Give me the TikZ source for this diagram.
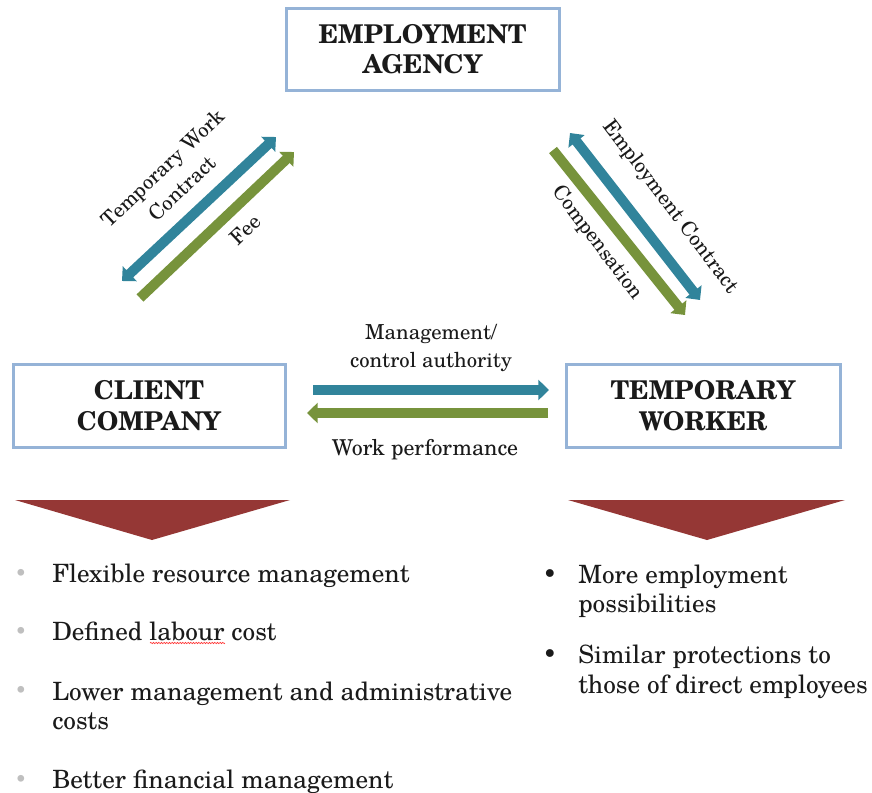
\documentclass[tikz,border=0pt]{standalone}
\usepackage{fontspec}
\setmainfont{TeX Gyre Schola}
\usetikzlibrary{arrows.meta,decorations.pathmorphing}
\definecolor{boxblue}{HTML}{95B3D7}
\definecolor{arrblue}{HTML}{31849B}
\definecolor{arrgreen}{HTML}{77933C}
\definecolor{tri}{HTML}{953735}
\definecolor{bulgray}{HTML}{BFBFBF}
\definecolor{txt}{HTML}{1A1A1A}
\begin{document}
\begin{tikzpicture}[x=0.75pt,y=-0.75pt,
  box/.style={draw=boxblue,line width=2.25pt,fill=white,align=center,
    font=\fontsize{19.4}{23}\selectfont\bfseries,text=txt,inner sep=0pt},
  fat/.style={line width=7.5pt},
  tipA/.style={-{Triangle[width=15pt,length=8pt]}},
  tipB/.style={{Triangle[width=15pt,length=8pt]}-{Triangle[width=15pt,length=8pt]}},
  lbl/.style={font=\fontsize{15.5}{21}\selectfont,text=txt,align=center,inner sep=0pt},
  btxt/.style={font=\fontsize{18.9}{21.75}\selectfont,text=txt,align=left,anchor=base west,inner sep=0pt},
  gbul/.style={font=\fontsize{15}{18}\selectfont,text=bulgray,inner sep=0pt},
  kbul/.style={font=\fontsize{17.5}{21.75}\selectfont,text=txt,inner sep=0pt}]
\useasboundingbox (0,0) rectangle (872,793);

% boxes
\node[box,minimum width=204.75pt,minimum height=61.5pt] (agency) at (422.5,49) {EMPLOYMENT\\AGENCY};
\node[box,minimum width=204pt,minimum height=62.25pt] (client) at (149,405.5) {CLIENT\\COMPANY};
\node[box,minimum width=205.5pt,minimum height=62.25pt] (worker) at (703,405.5) {TEMPORARY\\WORKER};

% arrow end points
\coordinate (lb1) at (122,281);
\coordinate (lb2) at (276,137);
\coordinate (lg1) at (140,298);
\coordinate (lg2) at (294,152);
\coordinate (rb1) at (570,133);
\coordinate (rb2) at (700,300);
\coordinate (rg1) at (553,150);
\coordinate (rg2) at (685,315);
\coordinate (hb1) at (313,390);
\coordinate (hb2) at (549,390);
\coordinate (hg1) at (548,413);
\coordinate (hg2) at (307,413);

\draw[fat,arrblue,tipB] (lb1) -- (lb2);
\draw[fat,arrgreen,tipA] (lg1) -- (lg2);
\draw[fat,arrblue,tipB] (rb1) -- (rb2);
\draw[fat,arrgreen,tipA] (rg1) -- (rg2);
\draw[fat,arrblue,tipA] (hb1) -- (hb2);
\draw[fat,arrgreen,tipA] (hg1) -- (hg2);

% arrow labels
\node[lbl,rotate=43.5] (ltw) at (172,178) {Temporary Work\\Contract};
\node[lbl,rotate=43.5] (lfee) at (245,230) {Fee};
\node[lbl,rotate=-53] (lec) at (670,207) {Employment Contract};
\node[lbl,rotate=-53] (lcomp) at (597,243) {Compensation};
\node[lbl] (lmgmt) at (431,348) {Management/\\control authority};
\node[lbl,font=\fontsize{16.4}{21}\selectfont] (lwork) at (425,450) {Work performance};

% red triangles
\fill[tri] (15,500) -- (290,500) -- (152,540) -- cycle;
\fill[tri] (568,500) -- (845,500) -- (707,540) -- cycle;

% left list
\node[gbul] (gb1) at (21,575) {•};
\node[btxt] (t1) at (52,582) {Flexible resource management};
\node[gbul] (gb2) at (21,633) {•};
\node[btxt] (t2) at (52,640) {Defined labour cost};
\node[gbul] (gb3) at (21,692) {•};
\node[btxt] (t3) at (52,700) {Lower management and administrative};
\node[btxt] (t3b) at (52,729) {costs};
\node[gbul] (gb4) at (21,781) {•};
\node[btxt] (t4) at (52,788) {Better financial management};
\draw[red!80,line width=0.5pt,decorate,decoration={snake,amplitude=0.5pt,segment length=2pt}] (150,643) -- (225,643);

% right list
\node[kbul] (kb1) at (550,576) {•};
\node[btxt] (r1) at (578,583) {More employment};
\node[btxt] (r1b) at (578,612) {possibilities};
\node[kbul] (kb2) at (550,656) {•};
\node[btxt] (r2) at (578,663) {Similar protections to};
\node[btxt] (r2b) at (578,693) {those of direct employees};
\end{tikzpicture}
\end{document}
